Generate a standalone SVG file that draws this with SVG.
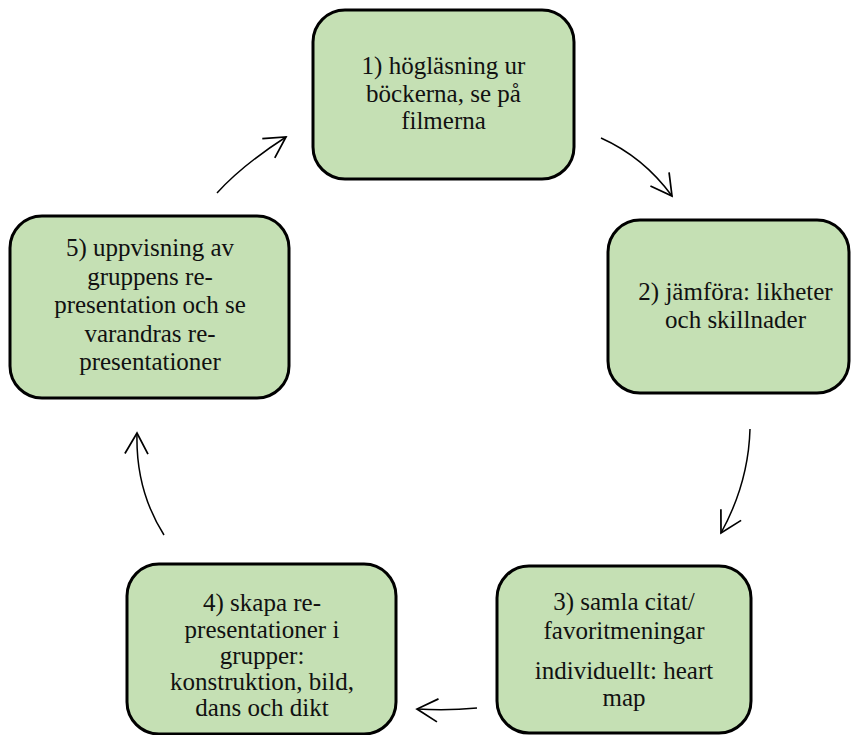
<svg xmlns="http://www.w3.org/2000/svg" width="852" height="735" viewBox="0 0 852 735">
<defs>
<style>
.box{fill:#C5E0B4;stroke:#000;stroke-width:3}
.t{font-family:'Liberation Serif','Tinos','Nimbus Roman','FreeSerif','Noto Serif','DejaVu Serif','Times New Roman',Times,serif;font-size:25px;fill:#111;text-anchor:middle}
.c{fill:none;stroke:#000;stroke-width:1.5}
</style>
<marker id="ah" markerUnits="userSpaceOnUse" markerWidth="30" markerHeight="30" viewBox="-22 -13 26 26" refX="0" refY="0" orient="auto">
<path d="M-18,-10 L0,0 L-18,10" fill="none" stroke="#000" stroke-width="1.5"/>
</marker>
</defs>
<rect width="852" height="735" fill="#fff"/>
<g id="n1">
<rect class="box" x="313" y="10" width="261" height="169" rx="32"/>
<text class="t" x="443.5" y="74">1) högläsning ur</text>
<text class="t" x="443.5" y="101.5">böckerna, se på</text>
<text class="t" x="443.5" y="129">filmerna</text>
</g>
<g id="n2">
<rect class="box" x="608" y="220" width="241" height="173" rx="32"/>
<text class="t" x="735.5" y="300">2) jämföra: likheter</text>
<text class="t" x="735.5" y="328">och skillnader</text>
</g>
<g id="n3">
<rect class="box" x="497" y="566" width="254" height="167" rx="32"/>
<text class="t" x="624" y="610">3) samla citat/</text>
<text class="t" x="624" y="639">favoritmeningar</text>
<text class="t" x="624" y="679">individuellt: heart</text>
<text class="t" x="624" y="706">map</text>
</g>
<g id="n4">
<rect class="box" x="127" y="564" width="269" height="170" rx="32"/>
<text class="t" x="262" y="611">4) skapa re-</text>
<text class="t" x="262" y="637.5">presentationer i</text>
<text class="t" x="262" y="664">grupper:</text>
<text class="t" x="262" y="690">konstruktion, bild,</text>
<text class="t" x="262" y="716">dans och dikt</text>
</g>
<g id="n5">
<rect class="box" x="10" y="216" width="279" height="182" rx="32"/>
<text class="t" x="150" y="256">5) uppvisning av</text>
<text class="t" x="150" y="284.5">gruppens re-</text>
<text class="t" x="150" y="313">presentation och se</text>
<text class="t" x="150" y="341.5">varandras re-</text>
<text class="t" x="150" y="370">presentationer</text>
</g>
<g id="connectors">
<path class="c" d="M601,138 Q643.5,157 672,196" marker-end="url(#ah)"/>
<path class="c" d="M750,429 Q748.5,483 721,533" marker-end="url(#ah)"/>
<path class="c" d="M477,708 Q447,711 417,709" marker-end="url(#ah)"/>
<path class="c" d="M164,535 Q135.5,490 137,433" marker-end="url(#ah)"/>
<path class="c" d="M217,193 Q242.5,165 286,137" marker-end="url(#ah)"/>
</g>
</svg>
